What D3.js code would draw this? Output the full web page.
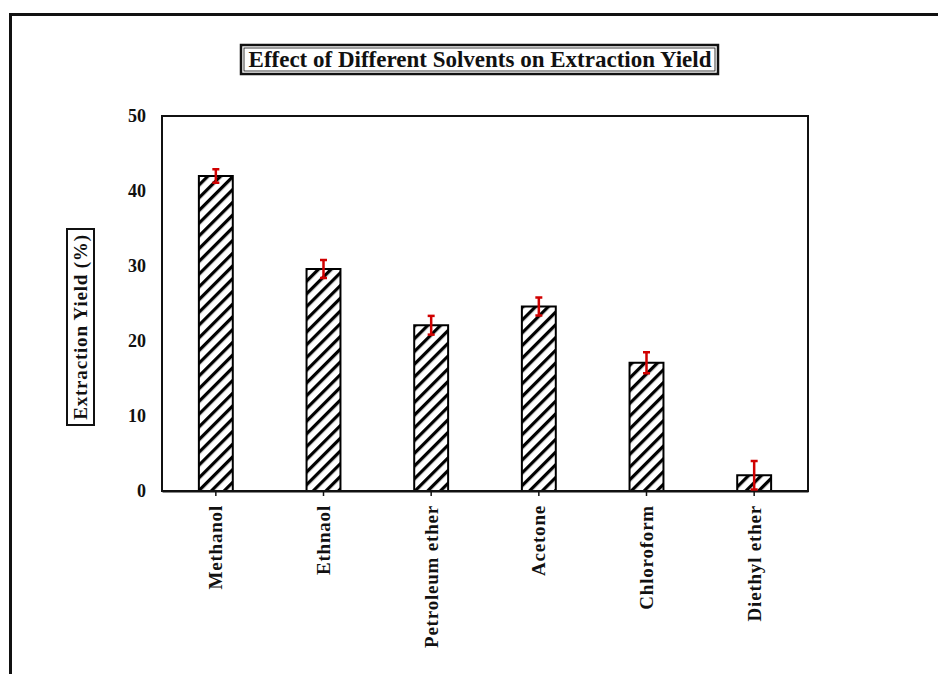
<!DOCTYPE html>
<html><head><meta charset="utf-8">
<script src="https://cdn.jsdelivr.net/npm/d3@7"></script>
<style>body{margin:0;background:#fff;} svg{display:block;}</style>
</head><body>
<svg id="c" width="938" height="674"></svg>
<script>
const categories = ["Methanol","Ethnaol","Petroleum ether","Acetone","Chloroform","Diethyl ether"];
const values = [42.0, 29.6, 22.1, 24.6, 17.1, 2.1];
const errors = [0.9, 1.2, 1.25, 1.2, 1.4, 1.9];
const yTicks = [0,10,20,30,40,50];
const title = "Effect of Different Solvents on Extraction Yield";
const yLabel = "Extraction Yield (%)";

const svg = d3.select("#c");
const font = "'Liberation Serif','Times New Roman',serif";
const m = {l:162, r:808, t:116, b:491};

// outer frame
svg.append("path").attr("d","M10.5,674 L10.5,14.5 L938,14.5").attr("fill","none").attr("stroke","#111").attr("stroke-width",3);

const defs = svg.append("defs");
const pat = defs.append("pattern").attr("id","hatch").attr("patternUnits","userSpaceOnUse")
  .attr("width",9).attr("height",9).attr("patternTransform","rotate(45)");
pat.append("rect").attr("width",9).attr("height",9).attr("fill","#fff");
pat.append("line").attr("x1",0).attr("y1",0).attr("x2",0).attr("y2",9).attr("stroke","#000").attr("stroke-width",6.5);

const x = d3.scaleBand().domain(categories).range([m.l,m.r]).paddingInner(0.685).paddingOuter(0.3425);
const y = d3.scaleLinear().domain([0,50]).range([m.b,m.t]);

// bars
svg.append("g").selectAll("rect").data(categories).join("rect")
  .attr("x",d=>x(d)).attr("width",x.bandwidth())
  .attr("y",(d,i)=>y(values[i])).attr("height",(d,i)=>y(0)-y(values[i]))
  .attr("fill","url(#hatch)").attr("stroke","#000").attr("stroke-width",2);

// plot frame
svg.append("rect").attr("x",m.l).attr("y",m.t).attr("width",m.r-m.l).attr("height",m.b-m.t)
  .attr("fill","none").attr("stroke","#111").attr("stroke-width",2);

// x axis
const xa = svg.append("g").attr("transform",`translate(0,${m.b})`)
  .call(d3.axisBottom(x).tickSize(5).tickSizeOuter(0));
xa.select(".domain").attr("stroke","#111").attr("stroke-width",2);
xa.selectAll(".tick line").attr("stroke","#111").attr("stroke-width",1.5);
xa.selectAll(".tick text").attr("font-family",font).attr("font-weight","bold").attr("font-size",19)
  .attr("letter-spacing",0.8)
  .attr("fill","#111").attr("transform","rotate(-90)").attr("text-anchor","end")
  .attr("x",-14).attr("y",0).attr("dy","0.35em");

// y axis
const ya = svg.append("g").attr("transform",`translate(${m.l},0)`)
  .call(d3.axisLeft(y).tickValues(yTicks).tickSize(0).tickPadding(16));
ya.select(".domain").remove();
ya.selectAll(".tick text").attr("font-family",font).attr("font-weight","bold").attr("font-size",18).attr("fill","#111");

// error bars
const eg = svg.append("g").attr("stroke","#d00000").attr("stroke-width",2.5);
categories.forEach((c,i)=>{
  const cx = x(c)+x.bandwidth()/2;
  const y1 = y(values[i]+errors[i]), y2 = y(values[i]-errors[i]);
  eg.append("line").attr("x1",cx).attr("x2",cx).attr("y1",y1).attr("y2",y2);
  eg.append("line").attr("x1",cx-3.5).attr("x2",cx+3.5).attr("y1",y1).attr("y2",y1);
  eg.append("line").attr("x1",cx-3.5).attr("x2",cx+3.5).attr("y1",y2).attr("y2",y2);
});

// title
svg.append("rect").attr("x",241).attr("y",45).attr("width",477).attr("height",29)
  .attr("fill","#fff").attr("stroke","#111").attr("stroke-width",2.5);
svg.append("rect").attr("x",244).attr("y",48).attr("width",471).attr("height",23)
  .attr("fill","none").attr("stroke","#111").attr("stroke-width",0.8);
svg.append("text").attr("x",480).attr("y",67).attr("text-anchor","middle")
  .attr("font-family",font).attr("font-weight","bold").attr("font-size",23).attr("fill","#111").text(title);

// y label
const yl = svg.append("g").attr("transform","translate(80,327) rotate(-90)");
yl.append("rect").attr("x",-98).attr("y",-13).attr("width",196).attr("height",27)
  .attr("fill","#fff").attr("stroke","#111").attr("stroke-width",2);
yl.append("text").attr("x",0).attr("y",6.5).attr("text-anchor","middle")
  .attr("font-family",font).attr("font-weight","bold").attr("font-size",19).attr("letter-spacing",0.8)
  .attr("fill","#111").text(yLabel);
</script>
</body></html>
